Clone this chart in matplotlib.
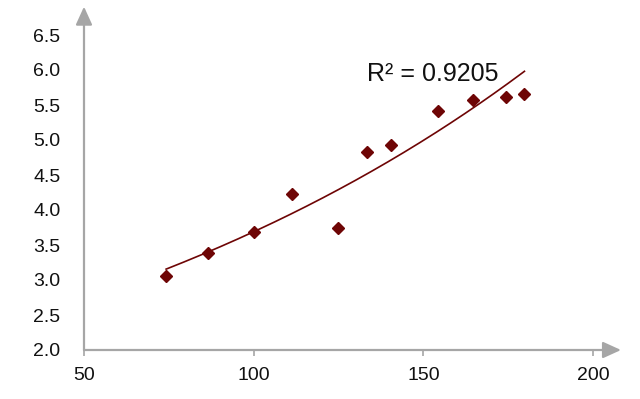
import numpy as np
import matplotlib
matplotlib.use("Agg")
import matplotlib.pyplot as plt

plt.rcParams['font.family'] = ['Liberation Sans', 'DejaVu Sans']

x_vals = [74.2, 86.6, 100.0, 111.4, 124.9, 133.5, 140.6, 154.2, 164.5, 174.5, 179.8]
y_vals = [3.06, 3.39, 3.69, 4.23, 3.74, 4.83, 4.93, 5.42, 5.57, 5.62, 5.66]
x_ticks = [50, 100, 150, 200]
y_ticks = [2.0, 2.5, 3.0, 3.5, 4.0, 4.5, 5.0, 5.5, 6.0, 6.5]
r2_label = "R² = 0.9205"

pt_color = "#6E0505"
axis_color = "#A6A6A6"

fig = plt.figure(figsize=(6.4, 3.99), dpi=100)
ax = fig.add_axes([84/640, 49/399, (593-84)/640, (350-35)/399])

x = np.array(x_vals)
y = np.array(y_vals)
# exponential trend line fitted to the data
b, a = np.polyfit(x, np.log(y), 1)
xf = np.linspace(x.min(), x.max(), 200)
ax.plot(xf, np.exp(a) * np.exp(b * xf), color=pt_color, lw=1.2, zorder=2)
ax.plot(x, y, linestyle='none', marker='D', ms=6.5, color=pt_color, zorder=3)

ax.set_xlim(50, 200)
ax.set_ylim(2.0, 6.5)
ax.set_xticks(x_ticks)
ax.set_yticks(y_ticks)
ax.set_xticklabels([str(v) for v in x_ticks])
ax.set_yticklabels([f"{v:.1f}" for v in y_ticks])

for s in ['top', 'right', 'left', 'bottom']:
    ax.spines[s].set_visible(False)

ax.tick_params(axis='x', length=4, width=1.2, color=axis_color, pad=8, labelsize=14, labelcolor='#111111')
ax.tick_params(axis='y', length=0, pad=17, labelsize=14, labelcolor='#111111')

# axis lines with arrows
ax.annotate('', xy=(1.055, 0), xytext=(0, 0), xycoords='axes fraction',
            arrowprops=dict(arrowstyle='-|>,head_length=1.1,head_width=0.5', color=axis_color,
                            lw=1.6, shrinkA=0, shrinkB=0), annotation_clip=False)
ax.annotate('', xy=(0, 1.09), xytext=(0, 0), xycoords='axes fraction',
            arrowprops=dict(arrowstyle='-|>,head_length=1.1,head_width=0.5', color=axis_color,
                            lw=1.6, shrinkA=0, shrinkB=0), annotation_clip=False)

ax.text(133.3, 5.94, r2_label, fontsize=18, color='#111111', ha='left', va='center')

fig.savefig("out.png", dpi=100)
